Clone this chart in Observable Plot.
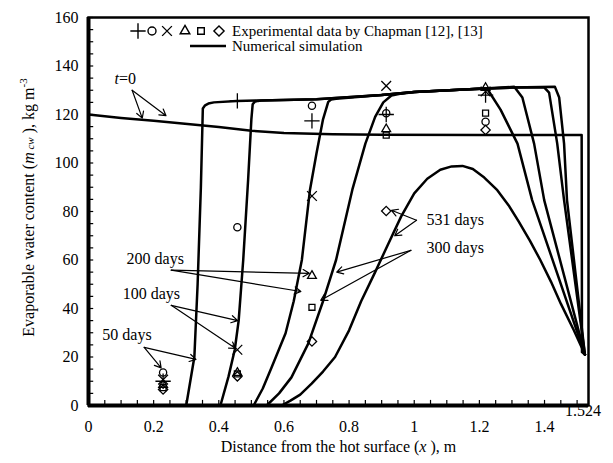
<!DOCTYPE html>
<html><head><meta charset="utf-8">
<script src="https://cdn.jsdelivr.net/npm/d3@7"></script>
<script src="https://cdn.jsdelivr.net/npm/@observablehq/plot@0.6"></script>
<style>
body{margin:0;background:#fff;}
#wrap{position:relative;width:613px;height:463px;font-family:"Liberation Serif","Times New Roman",Tinos,"DejaVu Serif",serif;}
#legend{position:absolute;left:128px;top:19px;}
</style></head><body>
<div id="wrap"><div id="chart"></div><svg id="legend" width="420" height="36"></svg></div>
<script>
// ---------- data ----------
const xTicks = [0, 0.2, 0.4, 0.6, 0.8, 1, 1.2, 1.4];
const xTickLabels = ["0", "0.2", "0.4", "0.6", "0.8", "1", "1.2", "1.4"];
const yTicks = [0, 20, 40, 60, 80, 100, 120, 140, 160];
const xEnd = 1.524;
const xMax = 1.535;

const t0 = [[0,120],[0.1,118.6],[0.2,117.4],[0.28,116.4],[0.4,114.8],[0.5,113.3],[0.6,112.4],[0.75,111.9],[0.9,111.6],[1.2,111.5],[1.514,111.5],[1.515,22],[1.524,21]];
const d50 = [[0.30,0],[0.325,20],[0.335,50],[0.345,90],[0.351,122.5],[0.358,123.8],[0.368,124.5],[0.385,125],[0.455,125.6],[0.53,125.8],[0.7,126.3],[0.9,128],[1.0,129.3],[1.2,130.6],[1.3,131.1],[1.432,131.4],[1.445,127],[1.46,108],[1.469,84.7],[1.524,21]];
const d100 = [[0.405,0],[0.43,12],[0.449,23],[0.461,35],[0.475,60],[0.49,93],[0.5,118],[0.504,124.2],[0.51,125.2],[0.52,125.6],[0.53,125.8],[0.7,126.3],[0.9,128],[1.0,129.3],[1.2,130.6],[1.3,131.1],[1.399,131.2],[1.414,129],[1.439,108],[1.46,84.7],[1.524,21]];
const d200 = [[0.507,0],[0.535,7],[0.562,15.7],[0.605,29.8],[0.63,43],[0.655,60],[0.68,89],[0.70,104],[0.72,118],[0.736,125.2],[0.745,126.2],[0.76,126.5],[0.9,128],[1.0,129.3],[1.2,130.6],[1.307,131.4],[1.332,127],[1.368,108],[1.399,84.7],[1.524,21]];
const d300 = [[0.547,0],[0.585,5],[0.623,11.6],[0.675,25.6],[0.72,43],[0.76,60],[0.81,89],[0.85,108],[0.88,119],[0.905,125],[0.93,127.8],[0.96,128.6],[1.0,129.3],[1.2,130.6],[1.225,130.4],[1.265,122],[1.317,108],[1.362,84.7],[1.524,21]];
const d531 = [[0.593,0],[0.62,2],[0.65,4.5],[0.685,9],[0.72,14],[0.757,20],[0.8,31],[0.837,43],[0.88,55],[0.918,66],[0.96,78],[1.0,87.5],[1.04,93.5],[1.08,97.2],[1.115,98.6],[1.148,98.8],[1.18,97.5],[1.215,94],[1.255,88.8],[1.29,82.5],[1.32,76],[1.355,68],[1.387,60],[1.42,51],[1.45,42],[1.49,31],[1.524,21]];

const plusPts     = [[0.229,10],[0.457,125.6],[0.686,117.4],[0.914,120],[1.219,128]];
const circlePts   = [[0.229,13.6],[0.457,73.5],[0.686,123.6],[0.914,120.5],[1.219,117]];
const timesPts    = [[0.229,10.7],[0.457,23],[0.686,86.4],[0.914,131.8],[1.219,129.5]];
const trianglePts = [[0.229,8.5],[0.457,13.5],[0.686,53.5],[0.914,114],[1.219,131]];
const squarePts   = [[0.229,7.4],[0.457,13],[0.686,40.5],[0.914,111.5],[1.219,120.6]];
const diamondPts  = [[0.229,6.6],[0.457,12],[0.686,26.4],[0.914,80.2],[1.219,113.6]];

const labels = [
  {text:"t=0", x:0.113, y:134.7},
  {text:"50 days", x:0.118, y:29},
  {text:"100 days", x:0.193, y:45.9},
  {text:"200 days", x:0.205, y:60.3},
  {text:"300 days", x:1.126, y:64.9},
  {text:"531 days", x:1.126, y:76.4}
];
const arrows = [
  {x1:0.134,y1:130,x2:0.165,y2:118.5},{x1:0.134,y1:130,x2:0.238,y2:119.5},
  {x1:0.171,y1:24,x2:0.223,y2:15.5},{x1:0.171,y1:24,x2:0.33,y2:19},
  {x1:0.254,y1:41.3,x2:0.458,y2:35},{x1:0.254,y1:41.3,x2:0.452,y2:23.5},
  {x1:0.254,y1:55.8,x2:0.678,y2:54.5},{x1:0.254,y1:55.8,x2:0.652,y2:47},
  {x1:0.99,y1:64,x2:0.762,y2:55},{x1:0.99,y1:64,x2:0.713,y2:43.4},
  {x1:1.007,y1:76.4,x2:0.93,y2:80.5},{x1:1.007,y1:76.4,x2:0.94,y2:70}
];
const xTitle = "Distance from the hot surface (x), m";
const yTitle = "Evaporable water content (m cw), kg m-3";

// ---------- build tables ----------
const seriesList = [["t=0",t0],["50 days",d50],["100 days",d100],["200 days",d200],["300 days",d300],["531 days",d531]];
const curves = seriesList.flatMap(([s,pts]) => pts.map(([x,y]) => ({series:s,x,y})));
const toPts = a => a.map(([x,y]) => ({x,y}));
const xMinor = d3.range(0, 1.5001, 0.05);
const yMinor = d3.range(0, 160.001, 5);

const dotOpts = {x:"x", y:"y", r:4.2, stroke:"black", fill:"none", strokeWidth:1.3};
const serif = '"Liberation Serif","Times New Roman",Tinos,"DejaVu Serif",serif';

const chart = Plot.plot({
  width: 613, height: 463,
  marginLeft: 88, marginRight: 25, marginTop: 17, marginBottom: 58,
  style: {fontFamily: serif, fontSize: "16px", background: "white", color: "black"},
  x: {domain: [0, xMax], axis: null},
  y: {domain: [0, 160], axis: null},
  marks: [
    Plot.ruleX(xMinor, {x: d => d, y1: 0, y2: 2.1, stroke: "black", strokeWidth: 1.2}),
    Plot.ruleY(yMinor, {y: d => d, x1: 0, x2: 0.016, stroke: "black", strokeWidth: 1.2}),
    Plot.line(curves, {x:"x", y:"y", z:"series", stroke:"black", strokeWidth:2.5, strokeLinejoin:"round"}),
    Plot.dot(toPts(plusPts), {...dotOpts, symbol:"plus", r:5}),
    Plot.dot(toPts(circlePts), {...dotOpts, symbol:"circle", r:3.6}),
    Plot.dot(toPts(timesPts), {...dotOpts, symbol:"times", r:4.5}),
    Plot.dot(toPts(trianglePts), {...dotOpts, symbol:"triangle2"}),
    Plot.dot(toPts(squarePts), {...dotOpts, symbol:"square2", r:3.8}),
    Plot.dot(toPts(diamondPts), {...dotOpts, symbol:"diamond2"}),
    Plot.arrow(arrows, {x1:"x1", y1:"y1", x2:"x2", y2:"y2", stroke:"black", strokeWidth:1.2, headLength:9}),
    Plot.text(labels, {x:"x", y:"y", text:"text", fontSize:16}),
    Plot.frame({stroke:"black", strokeWidth:2.5}),
    Plot.ruleX([0], {stroke:"black", strokeWidth:4}),
    Plot.ruleY([0], {stroke:"black", strokeWidth:4}),
    Plot.text(xTicks, {x: d => d, text: (d,i) => xTickLabels[i], frameAnchor:"bottom", dy:26, fontSize:16}),
    Plot.text([xEnd], {x: d => d, text: d => String(d), frameAnchor:"bottom", dy:10, dx:16, textAnchor:"end", fontSize:16}),
    Plot.text(yTicks, {y: d => d, text: d => String(d), frameAnchor:"left", dx:-10, textAnchor:"end", fontSize:16}),
    Plot.text([xTitle], {text: d => d, frameAnchor:"bottom", dy:46, fontSize:16}),
    Plot.text([yTitle], {text: d => d, frameAnchor:"left", dx:-60, dy:-4, rotate:-90, textAnchor:"middle", fontSize:16})
  ]
});
document.getElementById("chart").appendChild(chart);
chart.style.fontFamily = serif;
d3.select(chart).selectAll("text").attr("font-family", serif);

// rich text (italic / sub / superscript)
d3.select(chart).selectAll("text").each(function() {
  const t = this.textContent;
  const sel = d3.select(this);
  if (t === "t=0") {
    sel.html('<tspan font-style="italic">t</tspan>=0');
  } else if (t === xTitle) {
    sel.html('Distance from the hot surface (<tspan font-style="italic">x</tspan> ), m');
  } else if (t === yTitle) {
    sel.html('Evaporable water content (<tspan font-style="italic">m</tspan><tspan font-style="italic" font-size="11"> cw</tspan> ), kg m<tspan font-size="11" dy="-7">-3</tspan>');
  }
});

// legend
const lg = d3.select("#legend").style("font-family", serif);
const syms = [["plus",d3.symbolPlus,5],["circle",d3.symbolCircle,4],["times",d3.symbolTimes,4.5],["triangle",d3.symbolTriangle2,4.6],["square",d3.symbolSquare2,4.2],["diamond",d3.symbolDiamond2,4.6]];
const symX = [10, 24, 39, 57, 73, 91];
syms.forEach(([n, s, r], i) => {
  lg.append("path").attr("d", d3.symbol(s, Math.PI * r * r)()).attr("transform", `translate(${symX[i]},12)`)
    .attr("fill", "none").attr("stroke", "black").attr("stroke-width", 1.4);
});
lg.append("text").attr("x", 104).attr("y", 17).attr("font-size", 15).attr("font-family", serif).text("Experimental data by Chapman [12], [13]");
lg.append("line").attr("x1", 62).attr("x2", 98).attr("y1", 27).attr("y2", 27).attr("stroke", "black").attr("stroke-width", 2.6);
lg.append("text").attr("x", 104).attr("y", 32).attr("font-size", 15).attr("font-family", serif).text("Numerical simulation");
</script>
</body></html>
